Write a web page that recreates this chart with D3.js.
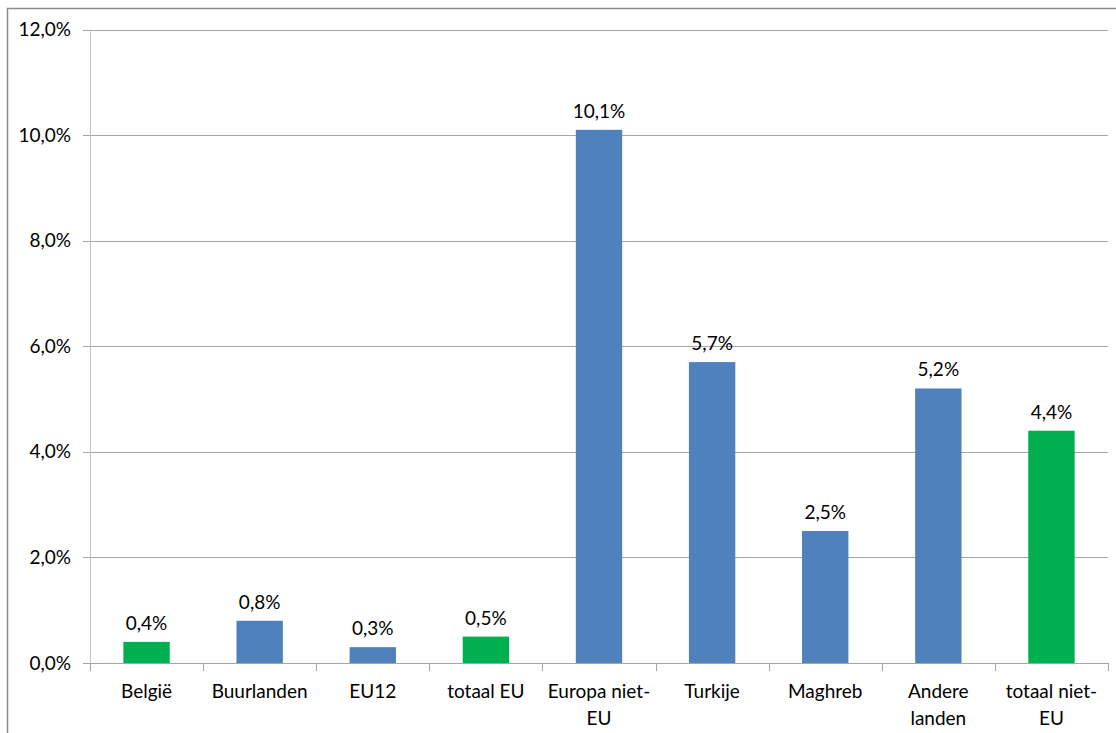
<!DOCTYPE html>
<html><head><meta charset="utf-8">
<script src="https://cdn.jsdelivr.net/npm/d3@7"></script>
<style>body{margin:0;background:#fff}svg{display:block}text{font-family:Lato,"Open Sans",sans-serif;fill:#000}</style>
</head><body>
<script>
const categories = [["België"],["Buurlanden"],["EU12"],["totaal EU"],["Europa niet-","EU"],["Turkije"],["Maghreb"],["Andere","landen"],["totaal niet-","EU"]];
const values = [0.4,0.8,0.3,0.5,10.1,5.7,2.5,5.2,4.4];
const isTotal = [true,false,false,true,false,false,false,false,true];
const yTicks = [0,2,4,6,8,10,12];
const W=1116,H=733;
const m={l:90,r:8,t:30,b:70};
const FS=19;
const svg=d3.select("body").append("svg").attr("width",W).attr("height",H);
svg.append("path").attr("d",`M7.5,${H} V8.5 H${W}`).attr("fill","none").attr("stroke","#8c8c8c").attr("stroke-width",1.5);
const x=d3.scaleBand().domain(d3.range(categories.length)).range([m.l,W-m.r]).paddingInner(0.59).paddingOuter(0.295);
const y=d3.scaleLinear().domain([0,12]).range([663,29.5]);
const fmt=v=>v.toFixed(1).replace(".",",")+"%";
svg.append("g").selectAll("line").data(yTicks).join("line")
 .attr("x1",m.l-7).attr("x2",W-m.r).attr("y1",d=>Math.round(y(d))+0.5).attr("y2",d=>Math.round(y(d))+0.5)
 .attr("stroke","#a6a6a6").attr("stroke-width",1);
svg.append("line").attr("x1",m.l+0.5).attr("x2",m.l+0.5).attr("y1",y(12)).attr("y2",y(0)+8).attr("stroke","#c4c4c4");
svg.append("g").selectAll("text").data(yTicks).join("text")
 .attr("x",71).attr("y",d=>y(d)).attr("dy","0.35em").attr("text-anchor","end").attr("font-size",FS).text(fmt);
const step=x.step();
svg.append("g").selectAll("line").data(d3.range(categories.length+1)).join("line")
 .attr("x1",i=>Math.round(m.l+i*step)+0.5).attr("x2",i=>Math.round(m.l+i*step)+0.5)
 .attr("y1",y(0)).attr("y2",y(0)+8).attr("stroke","#a6a6a6");
svg.append("g").selectAll("rect").data(values).join("rect")
 .attr("x",(d,i)=>x(i)).attr("width",x.bandwidth()).attr("y",d=>y(d)).attr("height",d=>y(0)-y(d))
 .attr("fill",(d,i)=>isTotal[i]?"#00b050":"#4f81bd");
svg.append("g").selectAll("text").data(values).join("text")
 .attr("x",(d,i)=>x(i)+x.bandwidth()/2).attr("y",d=>y(d)-12).attr("text-anchor","middle").attr("font-size",FS).text(fmt);
const cg=svg.append("g").selectAll("text").data(categories).join("text")
 .attr("x",(d,i)=>x(i)+x.bandwidth()/2).attr("y",698).attr("text-anchor","middle").attr("font-size",FS);
cg.selectAll("tspan").data(d=>d).join("tspan").attr("x",function(){return this.parentNode.getAttribute("x");})
 .attr("dy",(d,i)=>i?27:0).text(d=>d);
</script>
</body></html>
